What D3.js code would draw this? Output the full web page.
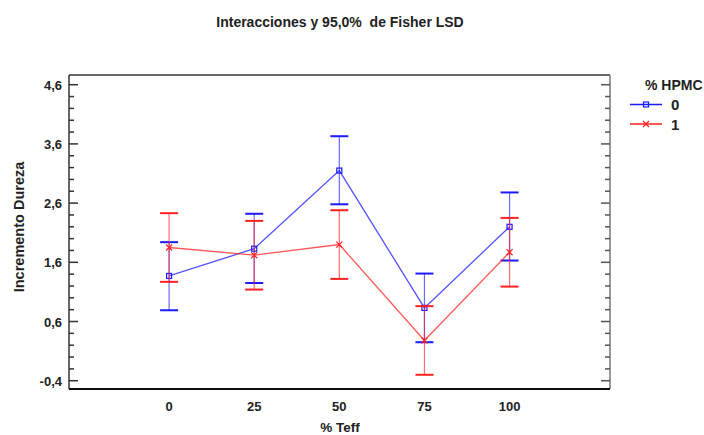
<!DOCTYPE html>
<html><head><meta charset="utf-8">
<script src="https://cdn.jsdelivr.net/npm/d3@7"></script>
<style>body{margin:0;background:#fff}svg{display:block}text{font-family:"Liberation Sans",Arial,sans-serif;font-weight:bold;fill:#222}</style>
</head><body><svg id="c" width="704" height="435"></svg>
<script>
const categories = [0, 25, 50, 75, 100];
const seriesNames = ["0", "1"];
const meanHPMC0 = [1.37, 1.83, 3.15, 0.83, 2.20];
const lowHPMC0  = [0.79, 1.25, 2.58, 0.25, 1.63];
const highHPMC0 = [1.94, 2.42, 3.73, 1.41, 2.78];
const meanHPMC1 = [1.85, 1.72, 1.90, 0.28, 1.77];
const lowHPMC1  = [1.27, 1.14, 1.32, -0.30, 1.19];
const highHPMC1 = [2.43, 2.30, 2.48, 0.86, 2.35];
const yTicks = [-0.4, 0.6, 1.6, 2.6, 3.6, 4.6];
const title = "Interacciones y 95,0%\u00a0 de Fisher LSD";
const xTitle = "% Teff", yTitle = "Incremento Dureza", legendTitle = "% HPMC";

const svg = d3.select("#c");
const L = 69, R = 610, T = 75, B = 389;
const x = d3.scaleLinear().domain([-29.4, 129.5]).range([L, R]);
const y = d3.scaleLinear().domain([-0.54, 4.764]).range([B, T]);
const fmt = v => d3.format(".1f")(v).replace(".", ",").replace("−", "-");

// frame
svg.append("line").attr("x1", L).attr("x2", R).attr("y1", T).attr("y2", T).attr("stroke", "#666").attr("stroke-width", 2);
svg.append("line").attr("x1", R).attr("x2", R).attr("y1", T).attr("y2", B).attr("stroke", "#777").attr("stroke-width", 1.5);
svg.append("line").attr("x1", L).attr("x2", L).attr("y1", T).attr("y2", B).attr("stroke", "#333").attr("stroke-width", 1.5);
svg.append("line").attr("x1", L).attr("x2", R).attr("y1", B).attr("y2", B).attr("stroke", "#111").attr("stroke-width", 2);

// y ticks (inward, both sides)
const minor = d3.range(-0.4, 4.7, 0.2).map(v => +v.toFixed(1));
minor.forEach(v => {
  const major = yTicks.some(t => Math.abs(t - v) < 1e-6);
  const len = major ? 9 : 5;
  svg.append("line").attr("x1", L).attr("x2", L + len).attr("y1", y(v)).attr("y2", y(v)).attr("stroke", "#333").attr("stroke-width", 1.5);
  svg.append("line").attr("x1", R).attr("x2", R - len).attr("y1", y(v)).attr("y2", y(v)).attr("stroke", "#555").attr("stroke-width", 1.5);
});
yTicks.forEach(v => {
  svg.append("text").attr("x", 62).attr("y", y(v) + 5).attr("text-anchor", "end").attr("font-size", 13).text(fmt(v));
});
categories.forEach(c => {
  svg.append("text").attr("x", x(c)).attr("y", 411).attr("text-anchor", "middle").attr("font-size", 13).text(c);
});

// titles
svg.append("text").attr("x", 340).attr("y", 27).attr("text-anchor", "middle").attr("font-size", 14).text(title);
svg.append("text").attr("x", 340).attr("y", 432).attr("text-anchor", "middle").attr("font-size", 13.5).text(xTitle);
svg.append("text").attr("transform", `translate(24,227) rotate(-90)`).attr("text-anchor", "middle").attr("font-size", 14.5).text(yTitle);

// series
const series = [
  {name: seriesNames[0], mean: meanHPMC0, low: lowHPMC0, high: highHPMC0, color: "#1a1aff", marker: "square"},
  {name: seriesNames[1], mean: meanHPMC1, low: lowHPMC1, high: highHPMC1, color: "#ff2020", marker: "x"}
];
function drawMarker(g, cx, cy, s) {
  if (s.marker === "square") {
    g.append("rect").attr("x", cx - 2.5).attr("y", cy - 2.5).attr("width", 5).attr("height", 5).attr("fill", "none").attr("stroke", s.color).attr("stroke-width", 1.2);
  } else {
    g.append("path").attr("d", `M${cx-3},${cy-3}L${cx+3},${cy+3}M${cx-3},${cy+3}L${cx+3},${cy-3}`).attr("stroke", s.color).attr("stroke-width", 1.2);
  }
}
series.forEach(s => {
  const g = svg.append("g");
  categories.forEach((c, i) => {
    const cx = x(c);
    g.append("line").attr("x1", cx).attr("x2", cx).attr("y1", y(s.low[i])).attr("y2", y(s.high[i])).attr("stroke", s.color).attr("stroke-opacity", 0.65).attr("stroke-width", 1.2);
    [s.low[i], s.high[i]].forEach(v => g.append("line").attr("x1", cx - 9).attr("x2", cx + 9).attr("y1", y(v)).attr("y2", y(v)).attr("stroke", s.color).attr("stroke-width", 2));
  });
  g.append("path").datum(s.mean).attr("fill", "none").attr("stroke", s.color).attr("stroke-opacity", 0.75).attr("stroke-width", 1.3)
    .attr("d", d3.line().x((d, i) => x(categories[i])).y(d => y(d)));
  categories.forEach((c, i) => drawMarker(g, x(c), y(s.mean[i]), s));
});

// legend
svg.append("text").attr("x", 645).attr("y", 90).attr("font-size", 14).text(legendTitle);
series.forEach((s, i) => {
  const ly = 104.5 + i * 19.5;
  svg.append("line").attr("x1", 630).attr("x2", 662).attr("y1", ly).attr("y2", ly).attr("stroke", s.color).attr("stroke-width", 1.5);
  drawMarker(svg, 646, ly, s);
  svg.append("text").attr("x", 671).attr("y", ly + 5.5).attr("font-size", 15).text(s.name);
});
</script></body></html>
